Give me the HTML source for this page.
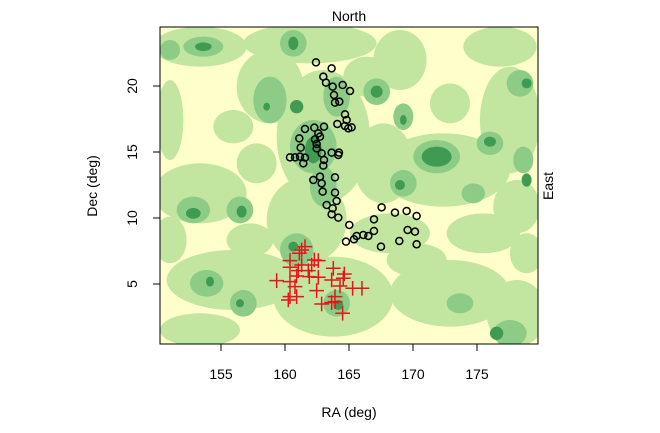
<!DOCTYPE html>
<html><head><style>
body{margin:0;background:#fff;}
svg{display:block;font-family:"Liberation Sans",sans-serif;}
</style></head><body>
<svg width="660" height="433" viewBox="0 0 660 433">
<defs><clipPath id="c"><rect x="160" y="27" width="378" height="317"/></clipPath></defs>
<rect x="160" y="27" width="378" height="317" fill="#ffffcc"/>
<g clip-path="url(#c)">
<g transform="translate(150 20) scale(0.3333)">
<g fill="#c2e5a0">
<ellipse cx="150" cy="80" rx="140" ry="60"/>
<ellipse cx="480" cy="70" rx="200" ry="60"/>
<ellipse cx="750" cy="120" rx="80" ry="90"/>
<ellipse cx="360" cy="200" rx="100" ry="110"/>
<ellipse cx="520" cy="350" rx="140" ry="200"/>
<ellipse cx="470" cy="600" rx="120" ry="130"/>
<ellipse cx="700" cy="430" rx="90" ry="120"/>
<ellipse cx="880" cy="450" rx="200" ry="110"/>
<ellipse cx="1080" cy="300" rx="90" ry="160"/>
<ellipse cx="1050" cy="80" rx="110" ry="60"/>
<ellipse cx="150" cy="520" rx="140" ry="90"/>
<ellipse cx="60" cy="300" rx="40" ry="120"/>
<ellipse cx="250" cy="780" rx="200" ry="90"/>
<ellipse cx="550" cy="830" rx="180" ry="120"/>
<ellipse cx="900" cy="820" rx="180" ry="100"/>
<ellipse cx="1100" cy="880" rx="90" ry="100"/>
<ellipse cx="150" cy="930" rx="120" ry="50"/>
<ellipse cx="720" cy="640" rx="120" ry="60"/>
<ellipse cx="1000" cy="640" rx="110" ry="60"/>
<ellipse cx="320" cy="430" rx="60" ry="60"/>
<ellipse cx="300" cy="660" rx="70" ry="50"/>
<ellipse cx="60" cy="660" rx="50" ry="70"/>
<ellipse cx="250" cy="320" rx="60" ry="50"/>
<ellipse cx="800" cy="720" rx="90" ry="50"/>
<ellipse cx="1100" cy="560" rx="70" ry="80"/>
<ellipse cx="900" cy="250" rx="60" ry="60"/>
<ellipse cx="650" cy="170" rx="70" ry="60"/>
<ellipse cx="1130" cy="700" rx="50" ry="60"/>
</g>
<g fill="#8ccc86">
<ellipse cx="160" cy="80" rx="60" ry="30"/>
<ellipse cx="430" cy="70" rx="40" ry="40"/>
<ellipse cx="360" cy="240" rx="50" ry="70"/>
<ellipse cx="490" cy="380" rx="70" ry="80"/>
<ellipse cx="520" cy="500" rx="40" ry="60"/>
<ellipse cx="560" cy="230" rx="40" ry="60"/>
<ellipse cx="680" cy="215" rx="40" ry="40"/>
<ellipse cx="860" cy="410" rx="70" ry="50"/>
<ellipse cx="1020" cy="370" rx="40" ry="35"/>
<ellipse cx="760" cy="290" rx="30" ry="40"/>
<ellipse cx="130" cy="570" rx="50" ry="40"/>
<ellipse cx="270" cy="570" rx="40" ry="40"/>
<ellipse cx="440" cy="690" rx="50" ry="50"/>
<ellipse cx="560" cy="850" rx="40" ry="40"/>
<ellipse cx="170" cy="790" rx="50" ry="40"/>
<ellipse cx="280" cy="850" rx="40" ry="40"/>
<ellipse cx="930" cy="850" rx="40" ry="30"/>
<ellipse cx="1110" cy="190" rx="40" ry="40"/>
<ellipse cx="1080" cy="940" rx="50" ry="40"/>
<ellipse cx="760" cy="490" rx="40" ry="40"/>
<ellipse cx="60" cy="90" rx="30" ry="30"/>
<ellipse cx="970" cy="520" rx="35" ry="30"/>
<ellipse cx="1120" cy="420" rx="30" ry="40"/>
</g>
<g fill="#3f9a52">
<ellipse cx="160" cy="80" rx="25" ry="13"/>
<ellipse cx="430" cy="70" rx="15" ry="20"/>
<ellipse cx="440" cy="260" rx="20" ry="20"/>
<ellipse cx="490" cy="390" rx="25" ry="40"/>
<ellipse cx="680" cy="215" rx="18" ry="18"/>
<ellipse cx="860" cy="410" rx="45" ry="30"/>
<ellipse cx="1020" cy="365" rx="18" ry="15"/>
<ellipse cx="130" cy="580" rx="22" ry="16"/>
<ellipse cx="275" cy="575" rx="15" ry="18"/>
<ellipse cx="430" cy="680" rx="15" ry="15"/>
<ellipse cx="565" cy="855" rx="15" ry="15"/>
<ellipse cx="1130" cy="190" rx="15" ry="15"/>
<ellipse cx="350" cy="260" rx="10" ry="12"/>
<ellipse cx="180" cy="785" rx="12" ry="15"/>
<ellipse cx="270" cy="850" rx="12" ry="12"/>
<ellipse cx="760" cy="300" rx="10" ry="15"/>
<ellipse cx="750" cy="495" rx="15" ry="15"/>
<ellipse cx="1040" cy="940" rx="20" ry="20"/>
<ellipse cx="1130" cy="480" rx="15" ry="20"/>
</g>
<g fill="none" stroke="#000" stroke-width="4.5">
<circle cx="498" cy="127" r="10.5"/><circle cx="545" cy="145" r="10.5"/><circle cx="520" cy="170" r="10.5"/><circle cx="528" cy="188" r="10.5"/><circle cx="548" cy="200" r="10.5"/><circle cx="578" cy="195" r="10.5"/><circle cx="600" cy="213" r="10.5"/><circle cx="552" cy="225" r="10.5"/><circle cx="568" cy="245" r="10.5"/><circle cx="555" cy="248" r="10.5"/><circle cx="585" cy="283" r="10.5"/><circle cx="590" cy="300" r="10.5"/><circle cx="562" cy="312" r="10.5"/><circle cx="585" cy="318" r="10.5"/><circle cx="605" cy="322" r="10.5"/><circle cx="595" cy="325" r="10.5"/><circle cx="465" cy="327" r="10.5"/><circle cx="493" cy="323" r="10.5"/><circle cx="522" cy="320" r="10.5"/><circle cx="505" cy="340" r="10.5"/><circle cx="510" cy="350" r="10.5"/><circle cx="448" cy="355" r="10.5"/><circle cx="495" cy="358" r="10.5"/><circle cx="500" cy="372" r="10.5"/><circle cx="452" cy="383" r="10.5"/><circle cx="500" cy="385" r="10.5"/><circle cx="420" cy="412" r="10.5"/><circle cx="435" cy="412" r="10.5"/><circle cx="450" cy="410" r="10.5"/><circle cx="465" cy="413" r="10.5"/><circle cx="460" cy="430" r="10.5"/><circle cx="515" cy="400" r="10.5"/><circle cx="545" cy="398" r="10.5"/><circle cx="567" cy="398" r="10.5"/><circle cx="565" cy="405" r="10.5"/><circle cx="522" cy="420" r="10.5"/><circle cx="520" cy="437" r="10.5"/><circle cx="555" cy="472" r="10.5"/><circle cx="490" cy="480" r="10.5"/><circle cx="510" cy="470" r="10.5"/><circle cx="515" cy="490" r="10.5"/><circle cx="518" cy="515" r="10.5"/><circle cx="555" cy="518" r="10.5"/><circle cx="560" cy="543" r="10.5"/><circle cx="530" cy="555" r="10.5"/><circle cx="548" cy="565" r="10.5"/><circle cx="545" cy="583" r="10.5"/><circle cx="565" cy="593" r="10.5"/><circle cx="598" cy="615" r="10.5"/><circle cx="620" cy="648" r="10.5"/><circle cx="640" cy="645" r="10.5"/><circle cx="655" cy="648" r="10.5"/><circle cx="672" cy="633" r="10.5"/><circle cx="672" cy="598" r="10.5"/><circle cx="695" cy="562" r="10.5"/><circle cx="735" cy="578" r="10.5"/><circle cx="770" cy="573" r="10.5"/><circle cx="800" cy="588" r="10.5"/><circle cx="773" cy="630" r="10.5"/><circle cx="795" cy="635" r="10.5"/><circle cx="748" cy="663" r="10.5"/><circle cx="800" cy="673" r="10.5"/><circle cx="693" cy="680" r="10.5"/><circle cx="588" cy="665" r="10.5"/><circle cx="612" cy="658" r="10.5"/>
</g>
<g stroke="#e8141a" stroke-width="4.5" fill="none">
<path d="M443 680h44M465 658v44 M433 690h44M455 668v44 M426 700h44M448 678v44 M398 722h44M420 700v44 M471 720h44M493 698v44 M483 722h44M505 700v44 M463 735h44M485 713v44 M433 735h44M455 713v44 M398 742h44M420 720v44 M423 752h44M445 730v44 M453 752h44M475 730v44 M528 745h44M550 723v44 M561 762h44M583 740v44 M558 775h44M580 753v44 M358 782h44M380 760v44 M398 785h44M420 763v44 M418 768h44M440 746v44 M456 770h44M478 748v44 M483 772h44M505 750v44 M523 780h44M545 758v44 M548 798h44M570 776v44 M413 800h44M435 778v44 M478 812h44M500 790v44 M586 805h44M608 783v44 M614 805h44M636 783v44 M398 830h44M420 808v44 M393 840h44M415 818v44 M418 830h44M440 808v44 M533 830h44M555 808v44 M533 845h44M555 823v44 M493 852h44M515 830v44 M523 848h44M545 826v44 M556 880h44M578 858v44"/>
</g>
</g>
</g>
<rect x="160" y="27" width="378" height="317" fill="none" stroke="#000" stroke-width="1"/>
<g stroke="#000" stroke-width="1">
<path d="M221 344v7M285 344v7M349 344v7M413 344v7M477 344v7"/>
<path d="M160 86h-7M160 152h-7M160 218h-7M160 284h-7"/>
</g>
<g font-size="14" fill="#000" text-anchor="middle">
<text x="221" y="379">155</text><text x="285" y="379">160</text><text x="349" y="379">165</text><text x="413" y="379">170</text><text x="477" y="379">175</text>
<text transform="translate(137 86) rotate(-90)">20</text>
<text transform="translate(137 152) rotate(-90)">15</text>
<text transform="translate(137 218) rotate(-90)">10</text>
<text transform="translate(137 284) rotate(-90)">5</text>
<text x="349" y="417">RA (deg)</text>
<text x="349" y="21">North</text>
<text transform="translate(97 186) rotate(-90)">Dec (deg)</text>
<text transform="translate(553 186) rotate(-90)">East</text>
</g>
</svg>
</body></html>
